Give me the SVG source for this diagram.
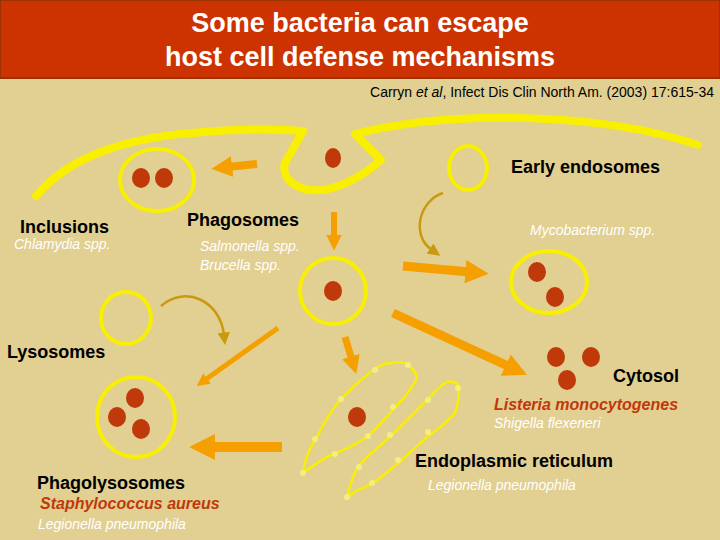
<svg xmlns="http://www.w3.org/2000/svg" width="720" height="540" viewBox="0 0 720 540">
<defs>
<style>
.y{fill:none;stroke:#f8f000;stroke-width:4}
.er{fill:none;stroke:#f8f000;stroke-width:2.5}
.b{fill:#c0390a}
.d{fill:#f4ee80}
.a{stroke:#f5a000;fill:none;marker-end:url(#ah)}
.c{stroke:#c99a10;stroke-width:2.5;fill:none;marker-end:url(#ch)}
text{font-family:"Liberation Sans",Arial,sans-serif}
.h{font-size:18px;font-weight:bold;fill:#000}
.w{font-size:14px;font-style:italic;fill:#fff}
.r{font-size:16px;font-style:italic;font-weight:bold;fill:#c0390a}
</style>
<marker id="ah" viewBox="0 0 10 10" refX="2" refY="5" markerWidth="2.6" markerHeight="2.6" orient="auto"><path d="M0,0 L10,5 L0,10 Z" fill="#f5a000"/></marker>
<marker id="ch" viewBox="0 0 10 10" refX="2" refY="5" markerWidth="5" markerHeight="5" orient="auto"><path d="M0,0 L10,5 L0,10 Z" fill="#c99a10"/></marker>
</defs>
<rect width="720" height="540" fill="#e2cf92"/>
<g id="title">
<rect x="0" y="0" width="720" height="78" fill="#cc3300" stroke="#993300" stroke-width="2"/>
<text x="360" y="32" text-anchor="middle" font-size="27" font-weight="bold" fill="#fff">Some bacteria can escape</text>
<text x="360" y="66" text-anchor="middle" font-size="27" font-weight="bold" fill="#fff">host cell defense mechanisms</text>
</g>
<text x="714" y="97" text-anchor="end" font-size="14" fill="#000">Carryn <tspan font-style="italic">et al</tspan>, Infect Dis Clin North Am. (2003) 17:615-34</text>
<g id="membrane">
<path d="M36,196 C65,162 110,142 180,134 C240,128 280,129 303,131 L285,163 C280,180 300,192 321,190 C345,188 370,170 381,160 L355,134 C450,110 600,112 698,145" fill="none" stroke="#f8f000" stroke-width="8" stroke-linejoin="round" stroke-linecap="round"/>
</g>
<g id="entry"><ellipse class="b" cx="333" cy="158" rx="8" ry="10"/></g>
<g id="inclusions">
<ellipse class="y" cx="157" cy="180" rx="37" ry="31"/>
<ellipse class="b" cx="141" cy="178" rx="9" ry="10"/><ellipse class="b" cx="164" cy="178" rx="9" ry="10"/>
<text class="h" x="20" y="233">Inclusions</text>
<text class="w" x="14" y="249">Chlamydia spp.</text>
</g>
<g id="early-endosome">
<ellipse class="y" cx="468" cy="168" rx="19" ry="22"/>
<text class="h" x="511" y="173">Early endosomes</text>
</g>
<g id="phagosome">
<ellipse class="y" cx="333" cy="291" rx="33" ry="33"/>
<ellipse class="b" cx="333" cy="291" rx="9" ry="10"/>
<text class="h" x="187" y="226">Phagosomes</text>
<text class="w" x="200" y="251">Salmonella spp.</text>
<text class="w" x="200" y="270">Brucella spp.</text>
</g>
<g id="mycobacterium">
<ellipse class="y" cx="549" cy="282" rx="38" ry="31"/>
<ellipse class="b" cx="537" cy="272" rx="9" ry="10"/><ellipse class="b" cx="555" cy="297" rx="9" ry="10"/>
<text class="w" x="530" y="235">Mycobacterium spp.</text>
</g>
<g id="lysosome">
<ellipse class="y" cx="126" cy="318" rx="25" ry="26"/>
<text class="h" x="7" y="358">Lysosomes</text>
</g>
<g id="phagolysosome">
<ellipse class="y" cx="136" cy="417" rx="39" ry="40"/>
<ellipse class="b" cx="135" cy="398" rx="9" ry="10"/><ellipse class="b" cx="117" cy="417" rx="9" ry="10"/><ellipse class="b" cx="141" cy="429" rx="9" ry="10"/>
<text class="h" x="37" y="489">Phagolysosomes</text>
<text class="r" x="40" y="509">Staphylococcus aureus</text>
<text class="w" x="38" y="529">Legionella pneumophila</text>
</g>
<g id="cytosol">
<ellipse class="b" cx="556" cy="357" rx="9" ry="10"/><ellipse class="b" cx="591" cy="357" rx="9" ry="10"/><ellipse class="b" cx="567" cy="380" rx="9" ry="10"/>
<text class="h" x="613" y="382">Cytosol</text>
<text class="r" x="494" y="410">Listeria monocytogenes</text>
<text class="w" x="494" y="428">Shigella flexeneri</text>
</g>
<g id="er">
<path class="er" d="M303,473 C305,455 312,445 317,437 C325,420 332,410 340,400 C350,390 358,382 367,375 C377,367 383,363 390,363 C400,362 408,362 409,365 C414,370 418,376 416,380 C410,390 405,398 399,403 C388,415 378,428 367,437 C355,445 345,450 335,453 C320,460 310,468 303,473 Z"/>
<path class="er" d="M347,497 C350,485 353,475 358,467 C368,455 378,447 390,437 C402,425 415,412 427,400 C435,392 440,386 445,383 C450,380 458,382 459,387 C459,395 458,405 455,413 C447,422 437,430 427,437 C415,448 402,460 390,470 C378,480 368,487 358,490 C352,493 349,496 347,497 Z"/>
<g class="d"><circle cx="303" cy="473" r="3"/><circle cx="315" cy="439" r="3"/><circle cx="341" cy="399" r="3"/><circle cx="375" cy="370" r="3"/><circle cx="408" cy="365" r="3"/><circle cx="393" cy="407" r="3"/><circle cx="368" cy="436" r="3"/><circle cx="335" cy="454" r="3"/>
<circle cx="347" cy="497" r="3"/><circle cx="359" cy="467" r="3"/><circle cx="390" cy="435" r="3"/><circle cx="428" cy="400" r="3"/><circle cx="458" cy="388" r="3"/><circle cx="428" cy="432" r="3"/><circle cx="398" cy="460" r="3"/><circle cx="372" cy="483" r="3"/></g>
<ellipse class="b" cx="357" cy="417" rx="9" ry="10"/>
<text class="h" x="415" y="467">Endoplasmic reticulum</text>
<text class="w" x="428" y="490">Legionella pneumophila</text>
</g>
<g id="connectors">
<line class="a" x1="257" y1="164" x2="228" y2="167" stroke-width="8"/>
<line class="a" x1="334" y1="212" x2="334" y2="238" stroke-width="6"/>
<line class="a" x1="403" y1="266" x2="470" y2="272" stroke-width="9"/>
<line class="a" x1="278" y1="328" x2="205" y2="380" stroke-width="5"/>
<line class="a" x1="345" y1="337" x2="352" y2="360" stroke-width="7"/>
<line class="a" x1="393" y1="313" x2="510" y2="367" stroke-width="9"/>
<line class="a" x1="282" y1="447" x2="210" y2="447" stroke-width="10"/>
<path class="c" d="M443,193 C420,200 410,235 432,250"/>
<path class="c" d="M161,306 C185,285 220,300 224,335"/>
</g>
</svg>
